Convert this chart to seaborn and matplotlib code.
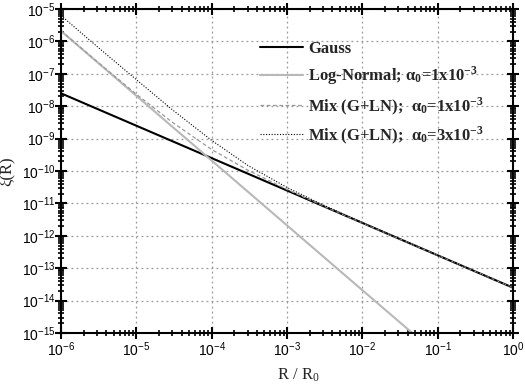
import numpy as np
import pandas as pd
import matplotlib
matplotlib.use("Agg")
import matplotlib.pyplot as plt
import matplotlib.ticker as mticker
import seaborn as sns

# ---- data ----
r_gauss = [1e-6, 1e-5, 1e-4, 1e-3, 1e-2, 1e-1, 1.0]
xi_gauss = [2.5e-8, 2.5e-9, 2.5e-10, 2.5e-11, 2.5e-12, 2.5e-13, 2.5e-14]

r_ln = [1e-6, 1e-5, 1e-4, 1e-3, 1e-2, 4.6e-2]
xi_ln = [2.1e-6, 2.1e-8, 2.1e-10, 2.1e-12, 2.1e-14, 1.0e-15]

r_mix = [1e-6, 3e-6, 1e-5, 3e-5, 1e-4, 3e-4, 1e-3, 3e-3, 1e-2, 1e-1, 1.0]
xi_mix1 = [2.13e-6, 2.4e-7, 2.35e-8, 3.2e-9, 4.6e-10, 1.07e-10, 2.7e-11,
           8.5e-12, 2.5e-12, 2.5e-13, 2.5e-14]
xi_mix3 = [6.3e-6, 7.0e-7, 6.6e-8, 7.8e-9, 8.8e-10, 1.5e-10, 3.1e-11,
           9.0e-12, 2.56e-12, 2.5e-13, 2.5e-14]

labels = ["Gauss",
          r"Log-Normal; $\mathbf{\alpha_0}$=1x10$^{\mathbf{-3}}$",
          r"Mix (G+LN);  $\mathbf{\alpha_0}$=1x10$^{\mathbf{-3}}$",
          r"Mix (G+LN);  $\mathbf{\alpha_0}$=3x10$^{\mathbf{-3}}$"]

x_ticks = [1e-6, 1e-5, 1e-4, 1e-3, 1e-2, 1e-1, 1.0]
x_ticklabels = ["10$^{-6}$", "10$^{-5}$", "10$^{-4}$", "10$^{-3}$", "10$^{-2}$", "10$^{-1}$", "10$^{0}$"]
y_ticks = [10.0 ** e for e in range(-15, -4)]
y_ticklabels = ["10$^{%d}$" % e for e in range(-15, -4)]

sns.set_style("ticks")
plt.rcParams["font.family"] = ["Liberation Sans", "DejaVu Sans"]
plt.rcParams["mathtext.fontset"] = "custom"
plt.rcParams["mathtext.rm"] = "Liberation Sans"
plt.rcParams["mathtext.it"] = "Liberation Sans"
plt.rcParams["mathtext.bf"] = "Liberation Serif:bold"

fig = plt.figure(figsize=(5.25, 3.85), dpi=100)
rect = [61 / 525, 1 - 333 / 385, (513 - 61) / 525, (333 - 9) / 385]
ax = fig.add_axes(rect)

df_g = pd.DataFrame({"R": r_gauss, "xi": xi_gauss})
df_l = pd.DataFrame({"R": r_ln, "xi": xi_ln})
df_m1 = pd.DataFrame({"R": r_mix, "xi": xi_mix1})
df_m3 = pd.DataFrame({"R": r_mix, "xi": xi_mix3})

sns.lineplot(data=df_g, x="R", y="xi", ax=ax, color="black", lw=1.5, label=labels[0])
sns.lineplot(data=df_l, x="R", y="xi", ax=ax, color="#b8b8b8", lw=1.5, label=labels[1])
sns.lineplot(data=df_m1, x="R", y="xi", ax=ax, color="#999999", lw=0.9,
             linestyle=(0, (3, 2)), label=labels[2])
sns.lineplot(data=df_m3, x="R", y="xi", ax=ax, color="black", lw=0.8,
             linestyle=(0, (1, 1.5)), label=labels[3])

ax.set_xscale("log")
ax.set_yscale("log")
ax.set_xlim(1e-6, 1.0)
ax.set_ylim(1e-15, 1e-5)

ax.grid(True, which="major", color="#999999", linestyle=(0, (1.5, 2.5)), linewidth=0.9)

for s in ax.spines.values():
    s.set_visible(True)
    s.set_linewidth(1.5)
    s.set_color("black")

ax.set_xlabel("R / R$_{\\mathregular{0}}$", family="Liberation Serif", fontsize=12)
ax.xaxis.set_label_coords((298 - 61) / (513 - 61), -(366 - 333) / (333 - 9))
ax.set_ylabel("ξ(R)", family="Liberation Serif", fontsize=12)
ax.yaxis.set_label_coords(-(61 - 15) / (513 - 61), 0.5)

leg = ax.legend(loc="upper left", bbox_to_anchor=(252 / 525, 1 - 33 / 385),
                bbox_transform=fig.transFigure, frameon=False,
                handlelength=2.55, handletextpad=0.3, labelspacing=0.45,
                borderpad=0, prop={"family": "Liberation Serif", "weight": "bold", "size": 12})

# ticks (set last), on all four sides
ax.xaxis.set_major_locator(mticker.FixedLocator(x_ticks))
ax.yaxis.set_major_locator(mticker.FixedLocator(y_ticks))
ax.xaxis.set_minor_locator(mticker.LogLocator(base=10, subs=np.arange(2, 10), numticks=100))
ax.yaxis.set_minor_locator(mticker.LogLocator(base=10, subs=np.arange(2, 10), numticks=100))
ax.xaxis.set_minor_formatter(mticker.NullFormatter())
ax.yaxis.set_minor_formatter(mticker.NullFormatter())
ax.xaxis.set_major_formatter(mticker.FixedFormatter(x_ticklabels))
ax.yaxis.set_major_formatter(mticker.FixedFormatter(y_ticklabels))

ax.tick_params(which="both", direction="inout", color="black", labelcolor="black",
               labelsize=10, bottom=True, left=True, top=True, right=True,
               labeltop=False, labelright=False)
ax.tick_params(which="major", length=8, width=1.5)
ax.tick_params(which="minor", length=5, width=1.2)
ax.tick_params(axis="x", which="major", pad=1)
ax.tick_params(axis="y", which="major", pad=0)

fig.savefig("out.png", dpi=100)
